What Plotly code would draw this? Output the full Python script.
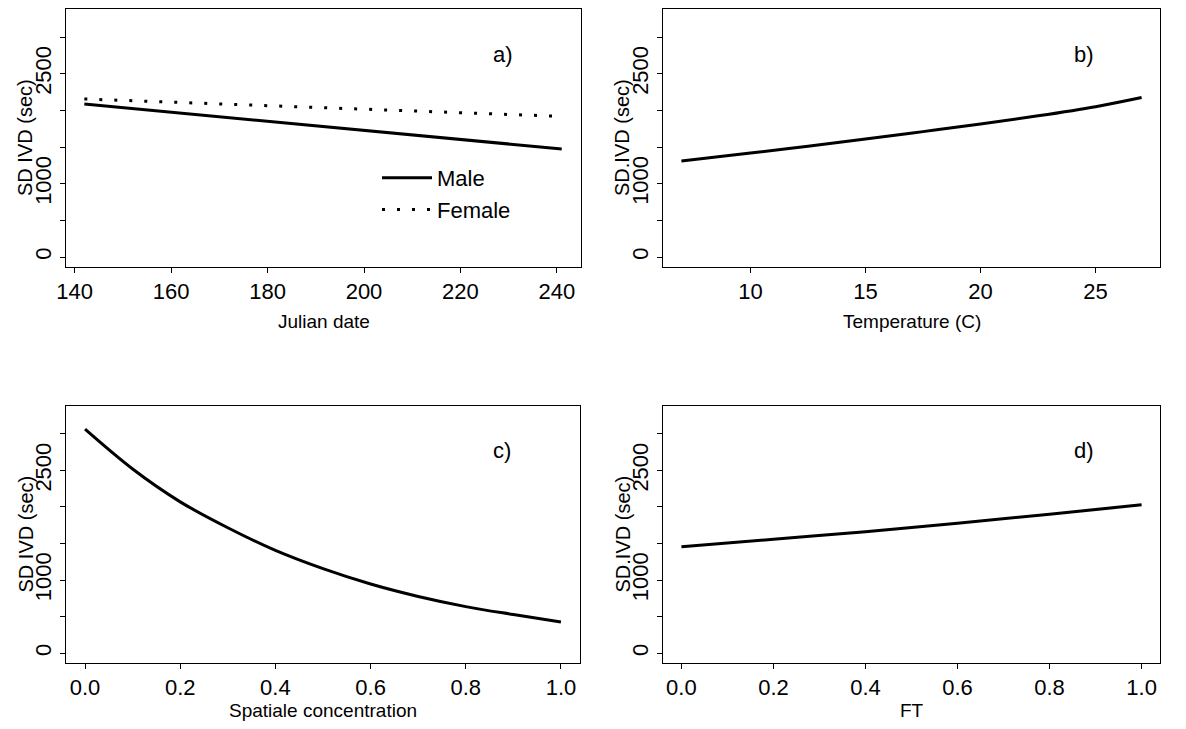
import plotly.graph_objects as go
from plotly.subplots import make_subplots

# ---- data ----
julian_male = [142, 160, 180, 200, 220, 241]
sd_male = [2086, 1975, 1852, 1730, 1605, 1473]
julian_female = [142, 160, 180, 200, 220, 239]
sd_female = [2155, 2110, 2062, 2013, 1968, 1923]

temperature = [7, 10, 12.5, 15, 17.5, 20, 22.5, 25, 27]
sd_temp = [1309, 1418, 1510, 1609, 1710, 1814, 1925, 2050, 2175]

spatial = [0.0, 0.1, 0.2, 0.3, 0.4, 0.5, 0.6, 0.7, 0.8, 0.9, 1.0]
sd_spatial = [3064, 2519, 2070, 1715, 1405, 1155, 945, 775, 636, 527, 425]

ft = [0.0, 0.2, 0.4, 0.6, 0.8, 1.0]
sd_ft = [1454, 1559, 1660, 1778, 1901, 2029]

y_ticks = [0, 500, 1000, 1500, 2000, 2500, 3000]
y_ticktext = ["0", "", "1000", "", "", "2500", ""]
x_ticks_a = [140, 160, 180, 200, 220, 240]
x_ticks_b = [10, 15, 20, 25]
x_ticks_cd = [0.0, 0.2, 0.4, 0.6, 0.8, 1.0]
panel_labels = ["a)", "b)", "c)", "d)"]
x_titles = ["Julian date", "Temperature (C)", "Spatiale concentration", "FT"]
y_titles = ["SD IVD (sec)", "SD.IVD (sec)", "SD IVD (sec)", "SD.IVD (sec)"]

FONT = "Liberation Sans, Arial, Helvetica, sans-serif"
# the page body has an 8px margin, so the figure is drawn 8px in from the corner
OFF = 8
W, H = 1186 - 2 * OFF, 729 - 2 * OFF

fig = make_subplots(rows=2, cols=2)

fig.add_trace(go.Scatter(x=julian_male, y=sd_male, mode="lines", name="Male",
                         line=dict(color="black", width=3)), row=1, col=1)
fig.add_trace(go.Scatter(x=julian_female, y=sd_female, mode="lines", name="Female",
                         line=dict(color="black", width=3, dash="3px,12px")), row=1, col=1)
fig.add_trace(go.Scatter(x=temperature, y=sd_temp, mode="lines", showlegend=False,
                         line=dict(color="black", width=3, shape="spline")), row=1, col=2)
fig.add_trace(go.Scatter(x=spatial, y=sd_spatial, mode="lines", showlegend=False,
                         line=dict(color="black", width=3, shape="spline")), row=2, col=1)
fig.add_trace(go.Scatter(x=ft, y=sd_ft, mode="lines", showlegend=False,
                         line=dict(color="black", width=3, shape="spline")), row=2, col=2)

# plot-region boxes in page pixels (left, right, top, bottom)
boxes = [(66, 581, 9, 267), (663, 1160, 9, 267), (66, 580, 406, 663), (663, 1160, 406, 663)]
title_gap = [54, 54, 47, 47]
x_ranges = [[138.2, 245.0], [6.2, 27.8], [-0.04, 1.04], [-0.04, 1.04]]
x_ticks = [x_ticks_a, x_ticks_b, x_ticks_cd, x_ticks_cd]
x_fmt = ["d", "d", ".1f", ".1f"]

common_axis = dict(showline=True, linecolor="black", linewidth=1, mirror=True,
                   ticks="outside", ticklen=5, tickcolor="black", tickwidth=1,
                   showgrid=False, zeroline=False, automargin=False,
                   tickfont=dict(family=FONT, size=22, color="black"))


def px_x(p):
    return (p - OFF) / W


def px_y(p):
    return 1 - (p - OFF) / H


for i in range(4):
    l, r, t, b = boxes[i]
    xa = "xaxis" if i == 0 else f"xaxis{i+1}"
    ya = "yaxis" if i == 0 else f"yaxis{i+1}"
    fig.layout[xa].update(domain=[px_x(l), px_x(r)], range=x_ranges[i],
                          tickvals=x_ticks[i], tickformat=x_fmt[i], **common_axis)
    fig.layout[ya].update(domain=[px_y(b), px_y(t)], range=[-136, 3382],
                          tickvals=y_ticks, ticktext=y_ticktext, tickangle=-90,
                          **common_axis)
    xref = "x domain" if i == 0 else f"x{i+1} domain"
    yref = "y domain" if i == 0 else f"y{i+1} domain"
    fig.add_annotation(text=panel_labels[i], xref=xref, yref=yref, x=0.848, y=0.825,
                       xanchor="center", yanchor="middle", showarrow=False,
                       font=dict(family=FONT, size=22, color="black"))
    # x axis title
    fig.add_annotation(text=x_titles[i], xref=xref, yref="paper",
                       x=0.5, y=px_y(b + title_gap[i]), xanchor="center", yanchor="middle",
                       showarrow=False, font=dict(family=FONT, size=19, color="black"))
    # y axis title
    fig.add_annotation(text=y_titles[i], xref="paper", yref=yref,
                       x=px_x(l - 41), y=0.5, xanchor="center", yanchor="middle",
                       textangle=-90, showarrow=False,
                       font=dict(family=FONT, size=20, color="black"))

fig.update_layout(
    width=W, height=H,
    margin=dict(l=0, r=0, t=0, b=0, autoexpand=False),
    paper_bgcolor="white", plot_bgcolor="white",
    showlegend=True,
    legend=dict(x=px_x(377), y=px_y(157), xanchor="left", yanchor="top",
                bgcolor="rgba(0,0,0,0)", borderwidth=0, itemwidth=50,
                tracegroupgap=0,
                font=dict(family=FONT, size=22, color="black")),
)

fig.write_html("out.html")
